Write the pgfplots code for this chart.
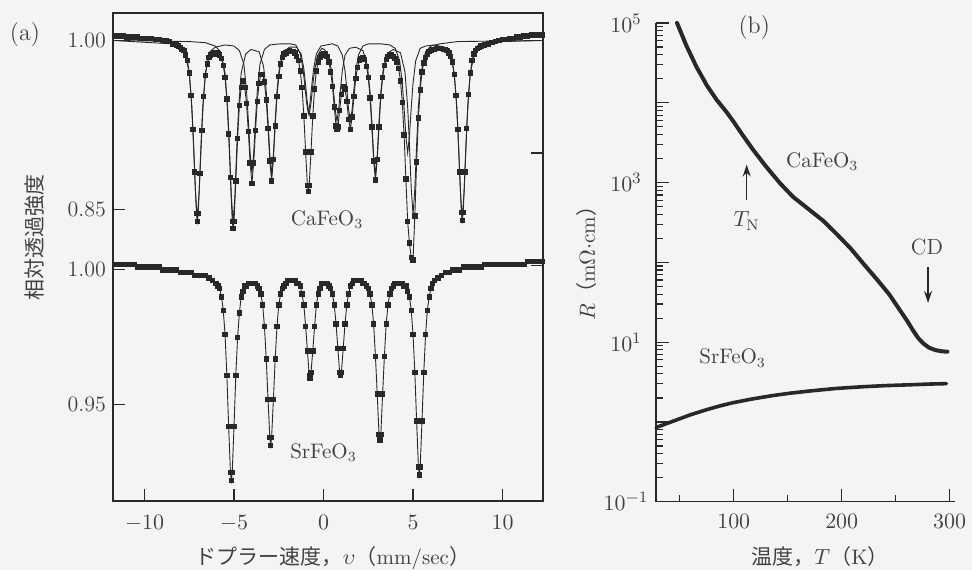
\documentclass[border=0pt]{standalone}
\usepackage{fontspec}
\usepackage{pgfplots}
\pgfplotsset{compat=1.18}
\usetikzlibrary{arrows.meta}
\newfontfamily\jp{Noto Sans CJK JP}
\definecolor{ink}{RGB}{40,40,40}
\definecolor{txt}{RGB}{65,65,65}
\definecolor{paper}{RGB}{244,244,242}
\pgfplotsset{
  leftpanel/.style={
    at={(56.5pt,34.5pt)}, anchor=south west, scale only axis,
    width=215pt, height=244pt, xmin=-11.76, xmax=12.26,
    tick align=inside, major tick length=6pt,
    tick style={color=ink, line width=0.6pt},
    axis line style={color=ink, line width=0.6pt},
    ticklabel style={font=\fontsize{11}{13}\selectfont, color=txt},
    clip mode=individual,
  },
  datamarks/.style={color=ink, line width=0.45pt, mark=square*, mark size=1.1pt, mark options={draw=ink, fill=ink}},
}
\begin{document}
\begin{tikzpicture}
\useasboundingbox (0,0) rectangle (486pt,285pt);
\fill[paper] (0,0) rectangle (486pt,285pt);

% ---------- (a) upper spectrum : CaFeO3 ----------
\begin{axis}[leftpanel,
  ymin=0.5905, ymax=1.0244,
  xtick={-10,-5,0,5,10}, xtick pos=bottom, xticklabel shift=3.5pt,
  ytick={0.85,1.0}, yticklabels={0.85,1.00}, ytick pos=left,
  xlabel={{\jp ドプラー速度，}$\upsilon${\jp （}mm/sec{\jp ）}},
  xlabel style={at={(axis description cs:0.5116,-0.1168)}, anchor=center, font=\fontsize{10.5}{12}\selectfont, color=txt},
  ylabel={{\jp 相対透過強度}},
  ylabel style={at={(axis description cs:-0.1814,0.541)}, anchor=center, font=\fontsize{10.5}{12}\selectfont, color=txt},
]
% component A
\addplot[color=ink, line width=0.45pt] coordinates {
(-11.76,1.000) (-8.5,0.997) (-8.05,0.995) (-7.75,0.990) (-7.5,0.971) (-7.35,0.940) (-7.25,0.905) (-7.15,0.865) (-7.05,0.841) (-6.95,0.865) (-6.85,0.905) (-6.75,0.940) (-6.6,0.971) (-6.35,0.990) (-6.05,0.994) (-5.5,0.996) (-5.0,0.995) (-4.7,0.991) (-4.45,0.979) (-4.3,0.955) (-4.2,0.929) (-4.1,0.900) (-4.0,0.882) (-3.9,0.900) (-3.8,0.929) (-3.7,0.955) (-3.55,0.979) (-3.3,0.992) (-3.0,0.996) (-2.4,0.997) (-1.85,0.997) (-1.55,0.996) (-1.3,0.988) (-1.15,0.975) (-1.05,0.961) (-0.95,0.945) (-0.85,0.935) (-0.75,0.945) (-0.65,0.961) (-0.55,0.975) (-0.4,0.988) (-0.15,0.995) (0.15,0.996) (0.5,0.997) (0.8,0.995) (1.05,0.987) (1.2,0.973) (1.3,0.957) (1.4,0.939) (1.5,0.928) (1.6,0.939) (1.7,0.957) (1.8,0.973) (1.95,0.987) (2.2,0.995) (2.5,0.997) (3.2,0.997) (3.7,0.996) (4.0,0.993) (4.25,0.982) (4.4,0.962) (4.5,0.940) (4.6,0.915) (4.7,0.900) (4.8,0.915) (4.9,0.940) (5.0,0.962) (5.15,0.982) (5.4,0.993) (5.7,0.995) (6.2,0.996) (6.75,0.994) (7.05,0.990) (7.3,0.971) (7.45,0.940) (7.55,0.905) (7.65,0.865) (7.75,0.841) (7.85,0.865) (7.95,0.905) (8.05,0.940) (8.2,0.971) (8.45,0.990) (8.75,0.995) (9.3,0.998) (10.0,0.999) (12.26,1.000)
};
% component B
\addplot[color=ink, line width=0.45pt] coordinates {
(-11.76,1.000) (-7.5,0.999) (-6.6,0.998) (-6.05,0.995) (-5.75,0.990) (-5.5,0.971) (-5.35,0.938) (-5.25,0.903) (-5.15,0.862) (-5.05,0.838) (-4.95,0.862) (-4.85,0.903) (-4.75,0.938) (-4.6,0.971) (-4.35,0.988) (-4.05,0.992) (-3.6,0.990) (-3.35,0.977) (-3.2,0.955) (-3.1,0.929) (-3.0,0.899) (-2.9,0.881) (-2.8,0.899) (-2.7,0.929) (-2.6,0.955) (-2.45,0.978) (-2.2,0.990) (-1.9,0.994) (-1.5,0.994) (-1.25,0.988) (-1.1,0.975) (-1.0,0.960) (-0.9,0.944) (-0.8,0.934) (-0.7,0.944) (-0.6,0.960) (-0.5,0.973) (-0.35,0.986) (-0.1,0.993) (0.05,0.992) (0.3,0.985) (0.45,0.973) (0.55,0.957) (0.65,0.939) (0.75,0.928) (0.85,0.939) (0.95,0.957) (1.05,0.973) (1.2,0.987) (1.45,0.993) (1.8,0.994) (2.2,0.991) (2.45,0.978) (2.6,0.954) (2.7,0.928) (2.8,0.898) (2.9,0.880) (3.0,0.898) (3.1,0.928) (3.2,0.954) (3.35,0.976) (3.6,0.989) (3.9,0.992) (4.3,0.989) (4.55,0.972) (4.7,0.941) (4.8,0.907) (4.9,0.868) (5.0,0.845) (5.1,0.868) (5.2,0.907) (5.3,0.941) (5.45,0.972) (5.7,0.990) (6.0,0.995) (6.5,0.997) (7.5,0.999) (12.26,1.000)
};
% measured data with total fit
\addplot[datamarks] coordinates {
(-11.6,1.004) (-11.4,1.004) (-11.2,1.004) (-11.0,1.003) (-10.8,1.003) (-10.6,1.003) (-10.4,1.003) (-10.2,1.002) (-10.0,1.002) (-9.8,1.002) (-9.6,1.002) (-9.4,1.001) (-9.2,1.001) (-9.0,1.000) (-8.8,1.000) (-8.6,0.999) (-8.4,0.997) (-8.2,0.996) (-8.1,0.995)
(-8.0,0.994) (-7.9,0.992) (-7.8,0.991) (-7.7,0.987) (-7.6,0.982) (-7.5,0.971) (-7.4,0.951) (-7.3,0.921) (-7.2,0.883) (-7.1,0.846) (-7.05,0.839) (-7.0,0.846) (-6.9,0.882) (-6.8,0.920) (-6.7,0.950) (-6.6,0.969) (-6.5,0.979) (-6.4,0.985) (-6.3,0.987) (-6.2,0.988) (-6.1,0.989)
(-6.0,0.989) (-5.9,0.988) (-5.8,0.987) (-5.7,0.984) (-5.6,0.978) (-5.5,0.967) (-5.4,0.948) (-5.3,0.917) (-5.2,0.878) (-5.1,0.839) (-5.05,0.833) (-5.0,0.839) (-4.9,0.875) (-4.8,0.913) (-4.7,0.942) (-4.6,0.958) (-4.5,0.964) (-4.4,0.958) (-4.3,0.944) (-4.2,0.919) (-4.1,0.891)
(-4.0,0.873) (-3.9,0.891) (-3.8,0.920) (-3.7,0.946) (-3.6,0.962) (-3.5,0.970) (-3.4,0.970) (-3.3,0.963) (-3.2,0.947) (-3.1,0.922) (-3.0,0.893) (-2.9,0.875) (-2.8,0.894) (-2.7,0.924) (-2.6,0.950) (-2.5,0.968) (-2.4,0.979) (-2.3,0.985) (-2.2,0.988) (-2.1,0.989)
(-2.0,0.990) (-1.9,0.991) (-1.8,0.990) (-1.7,0.990) (-1.6,0.989) (-1.5,0.986) (-1.4,0.982) (-1.3,0.973) (-1.2,0.958) (-1.1,0.933) (-1.0,0.901) (-0.9,0.871) (-0.85,0.866) (-0.8,0.871) (-0.7,0.901) (-0.6,0.933) (-0.5,0.957) (-0.4,0.973) (-0.3,0.981) (-0.2,0.985) (-0.1,0.987)
(0.0,0.988) (0.1,0.988) (0.2,0.986) (0.3,0.981) (0.4,0.972) (0.5,0.959) (0.6,0.941) (0.7,0.924) (0.75,0.921) (0.8,0.923) (0.9,0.938) (1.0,0.952) (1.1,0.959) (1.2,0.957) (1.3,0.946) (1.4,0.930) (1.5,0.921) (1.6,0.932) (1.7,0.950) (1.8,0.966) (1.9,0.976)
(2.0,0.982) (2.1,0.984) (2.2,0.985) (2.3,0.983) (2.4,0.977) (2.5,0.967) (2.6,0.949) (2.7,0.923) (2.8,0.893) (2.9,0.876) (3.0,0.894) (3.1,0.923) (3.2,0.950) (3.3,0.967) (3.4,0.978) (3.5,0.983) (3.6,0.986) (3.7,0.987) (3.8,0.987) (3.9,0.986)
(4.0,0.984) (4.1,0.981) (4.2,0.975) (4.3,0.964) (4.4,0.945) (4.5,0.916) (4.6,0.877) (4.7,0.839) (4.8,0.820) (4.9,0.807) (5.0,0.805) (5.1,0.844) (5.2,0.892) (5.3,0.931) (5.4,0.956) (5.5,0.972) (5.6,0.980) (5.7,0.985) (5.8,0.988) (5.9,0.990)
(6.0,0.991) (6.1,0.992) (6.2,0.992) (6.3,0.993) (6.4,0.993) (6.5,0.993) (6.6,0.993) (6.7,0.992) (6.8,0.992) (6.9,0.991) (7.0,0.989) (7.1,0.986) (7.2,0.981) (7.3,0.970) (7.4,0.951) (7.5,0.921) (7.6,0.883) (7.7,0.847) (7.75,0.840) (7.8,0.847) (7.9,0.883)
(8.0,0.922) (8.1,0.952) (8.2,0.971) (8.3,0.982) (8.4,0.988) (8.5,0.991) (8.6,0.993) (8.7,0.994) (8.8,0.995) (9.0,0.996) (9.2,0.997) (9.4,0.998) (9.6,0.999) (9.8,1.000) (10.0,1.001) (10.2,1.001) (10.4,1.002) (10.6,1.002) (10.8,1.003) (11.0,1.003) (11.2,1.004) (11.4,1.004) (11.6,1.005) (11.8,1.005) (12.0,1.005) (12.2,1.005)
};
\node[font=\fontsize{10.5}{12}\selectfont, text=txt] at (axis cs:0.2,0.8405) {CaFeO$_3$};
\node[font=\fontsize{12}{14}\selectfont, text=txt] at (axis description cs:-0.2047,0.955) {(a)};
\end{axis}

% ---------- (a) lower spectrum : SrFeO3 ----------
\begin{axis}[leftpanel,
  ymin=0.9144, ymax=1.0951,
  xtick=\empty,
  ytick={0.95,1.0}, yticklabels={0.95,1.00}, ytick pos=left,
]
\addplot[datamarks] coordinates {
(-11.6,1.002) (-11.4,1.002) (-11.2,1.002) (-11.0,1.002) (-10.8,1.002) (-10.6,1.002) (-10.4,1.001) (-10.2,1.001) (-10.0,1.001) (-9.8,1.001) (-9.6,1.001) (-9.4,1.001) (-9.2,1.001) (-9.0,1.000) (-8.8,1.000) (-8.6,1.000) (-8.4,1.000) (-8.2,1.000) (-8.0,0.999) (-7.8,0.999) (-7.6,0.999) (-7.4,0.999) (-7.2,0.998) (-7.0,0.998) (-6.8,0.998) (-6.6,0.998) (-6.4,0.997) (-6.2,0.996)
(-6.0,0.995) (-5.9,0.994) (-5.8,0.993) (-5.7,0.990) (-5.6,0.985) (-5.5,0.976) (-5.4,0.961) (-5.3,0.942) (-5.2,0.925) (-5.15,0.922) (-5.1,0.925) (-5.0,0.942) (-4.9,0.961) (-4.8,0.975) (-4.7,0.984) (-4.6,0.990) (-4.5,0.992) (-4.4,0.994) (-4.3,0.994) (-4.2,0.995) (-4.1,0.995)
(-4.0,0.995) (-3.9,0.995) (-3.8,0.995) (-3.7,0.994) (-3.6,0.993) (-3.5,0.991) (-3.4,0.987) (-3.3,0.979) (-3.2,0.967) (-3.1,0.952) (-3.0,0.938) (-2.95,0.935) (-2.9,0.938) (-2.8,0.952) (-2.7,0.967) (-2.6,0.979) (-2.5,0.987) (-2.4,0.991) (-2.3,0.993) (-2.2,0.994) (-2.1,0.995)
(-2.0,0.996) (-1.9,0.996) (-1.8,0.996) (-1.7,0.996) (-1.6,0.996) (-1.5,0.995) (-1.4,0.995) (-1.3,0.994) (-1.2,0.991) (-1.1,0.987) (-1.0,0.979) (-0.9,0.970) (-0.8,0.961) (-0.75,0.960) (-0.7,0.962) (-0.6,0.970) (-0.5,0.979) (-0.4,0.987) (-0.3,0.991) (-0.2,0.993) (-0.1,0.995)
(0.0,0.995) (0.1,0.995) (0.2,0.995) (0.3,0.994) (0.4,0.993) (0.5,0.991) (0.6,0.987) (0.7,0.980) (0.8,0.971) (0.9,0.962) (0.95,0.961) (1.0,0.962) (1.1,0.971) (1.2,0.980) (1.3,0.987) (1.4,0.991) (1.5,0.994) (1.6,0.995) (1.7,0.996) (1.8,0.996) (1.9,0.996)
(2.0,0.996) (2.1,0.996) (2.2,0.995) (2.3,0.995) (2.4,0.994) (2.5,0.993) (2.6,0.991) (2.7,0.987) (2.8,0.980) (2.9,0.968) (3.0,0.954) (3.1,0.939) (3.15,0.937) (3.2,0.939) (3.3,0.954) (3.4,0.968) (3.5,0.980) (3.6,0.987) (3.7,0.991) (3.8,0.993) (3.9,0.994)
(4.0,0.995) (4.1,0.995) (4.2,0.995) (4.3,0.995) (4.4,0.995) (4.5,0.994) (4.6,0.994) (4.7,0.992) (4.8,0.990) (4.9,0.985) (5.0,0.976) (5.1,0.962) (5.2,0.944) (5.3,0.927) (5.35,0.924) (5.4,0.927) (5.5,0.944) (5.6,0.962) (5.7,0.976) (5.8,0.985) (5.9,0.990) (6.0,0.993) (6.1,0.995)
(6.2,0.996) (6.4,0.997) (6.6,0.998) (6.8,0.999) (7.0,0.999) (7.2,1.000) (7.4,1.000) (7.6,1.000) (7.8,1.001) (8.0,1.001) (8.2,1.001) (8.4,1.001) (8.6,1.001) (8.8,1.001) (9.0,1.002) (9.2,1.002) (9.4,1.002) (9.6,1.002) (9.8,1.002) (10.0,1.002) (10.2,1.002) (10.4,1.002) (10.6,1.002) (10.8,1.002) (11.0,1.002) (11.2,1.002) (11.4,1.003) (11.6,1.003) (11.8,1.003) (12.0,1.003) (12.2,1.003)
};
\node[font=\fontsize{10.5}{12}\selectfont, text=txt] at (axis cs:0,0.9322) {SrFeO$_3$};
\end{axis}

% ---------- (a) right-hand ticks ----------
\begin{axis}[leftpanel,
  ymin=0.5905, ymax=1.0244,
  xtick=\empty, ytick={0.8,0.9}, yticklabels={}, ytick pos=right,
]
\end{axis}

% ---------- (b) resistivity ----------
\begin{axis}[
  at={(328pt,34.15pt)}, anchor=south west, scale only axis,
  width=149.5pt, height=239.35pt,
  xmin=28, xmax=305, ymode=log, ymin=0.1, ymax=1e5,
  axis x line*=bottom, axis y line*=left,
  axis line style={-, color=ink, line width=0.6pt},
  tick style={color=ink, line width=0.6pt},
  tick align=inside, major tick length=6.5pt, minor tick length=3.5pt,
  xtick={100,200,300}, minor xtick={50,150,250},
  ytick={0.1,1,10,100,1000,10000,100000},
  yticklabels={$10^{-1}$,,$10^{1}$,,$10^{3}$,,$10^{5}$},
  minor ytick={0.2,0.3,0.4,0.5,0.6,0.7,0.8,0.9,2,3,4,5,6,7,8,9,20,30,40,50,60,70,80,90,200,300,400,500,600,700,800,900,2000,3000,4000,5000,6000,7000,8000,9000,20000,30000,40000,50000,60000,70000,80000,90000},
  ticklabel style={font=\fontsize{11}{13}\selectfont, color=txt},
  yticklabel style={anchor=center, xshift=-15pt},
  xticklabel shift=3pt,
  xlabel={{\jp 温度，}$T${\jp （}K{\jp ）}},
  xlabel style={at={(axis description cs:0.5485,-0.1155)}, anchor=center, font=\fontsize{10.5}{12}\selectfont, color=txt},
  ylabel={$R${\jp （}m$\Omega\cdot$cm{\jp ）}},
  ylabel style={at={(axis description cs:-0.2308,0.509)}, anchor=center, font=\fontsize{10.5}{12}\selectfont, color=txt},
  clip=false,
]
\addplot[color=ink, line width=2pt, line cap=round, line join=round] coordinates {
(47.5,100000) (56,52480) (65.5,28180) (75,16600) (84,10960) (93,7762) (99.5,5888) (107,4169) (118,2570) (130,1585) (143,977) (155,661) (170,457) (183,331) (195,229) (208,151) (221,93.3) (233,60.3) (244,39.8) (254,25.1) (261,18.2) (266,14.1) (271,11.2) (276,9.55) (281,8.51) (287,7.94) (293,7.67) (298,7.59)
};
\addplot[color=ink, line width=1.8pt, line cap=round, line join=round] coordinates {
(28,0.851) (38,0.955) (48,1.072) (60,1.230) (74,1.413) (87,1.585) (99,1.738) (118,1.950) (136,2.138) (152,2.291) (172,2.455) (195,2.630) (218,2.754) (240,2.851) (262,2.917) (282,2.985) (297,3.020)
};
\draw[-{Stealth[length=6pt,width=4pt]}, color=ink, line width=0.8pt] (axis cs:112,600) -- (axis cs:112,1680);
\node[font=\fontsize{11}{13}\selectfont, text=txt] at (axis cs:112,330) {$T_{\mathrm{N}}$};
\draw[-{Stealth[length=6pt,width=4pt]}, color=ink, line width=0.8pt] (axis cs:280,88) -- (axis cs:280,31);
\node[font=\fontsize{11}{13}\selectfont, text=txt] at (axis cs:279,155) {CD};
\node[font=\fontsize{10.5}{12}\selectfont, text=txt] at (axis cs:182,1820) {CaFeO$_3$};
\node[font=\fontsize{10.5}{12}\selectfont, text=txt] at (axis cs:99,6.3) {SrFeO$_3$};
\node[font=\fontsize{12}{14}\selectfont, text=txt] at (axis cs:119,87000) {(b)};
\end{axis}
\end{tikzpicture}
\end{document}
